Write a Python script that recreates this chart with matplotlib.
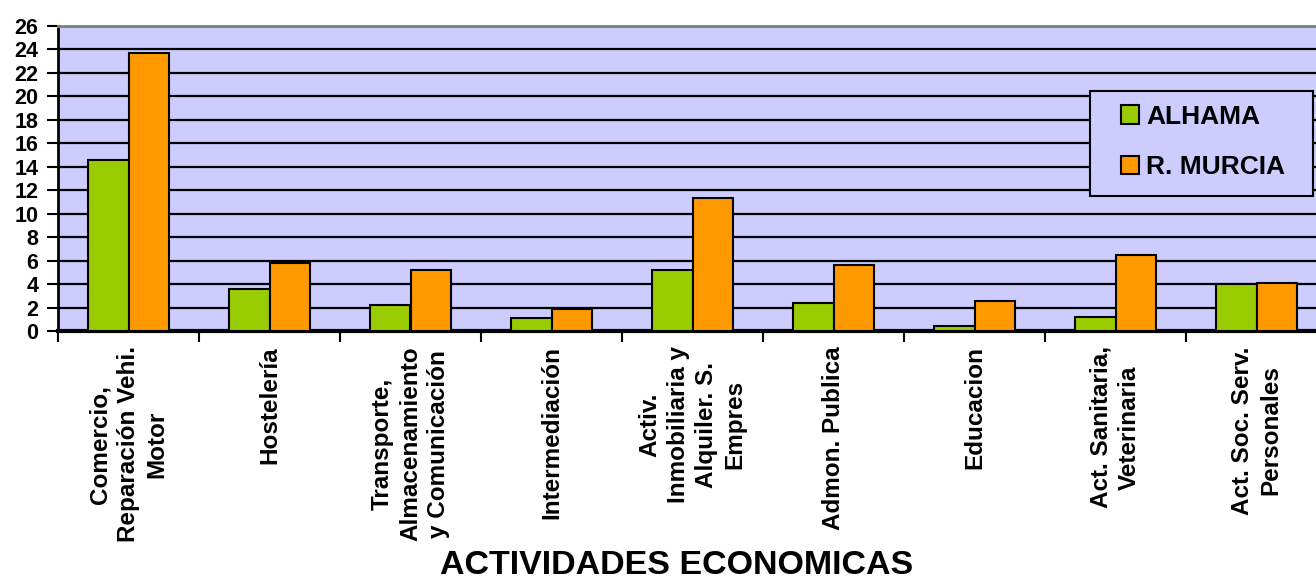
import matplotlib.pyplot as plt
import numpy as np
from matplotlib.patches import Patch, Rectangle

plt.rcParams['font.family'] = ['Liberation Sans', 'DejaVu Sans']
plt.rcParams['font.weight'] = 'bold'

categories = [
    'Comercio,\nReparación Vehi.\nMotor',
    'Hostelería',
    'Transporte,\nAlmacenamiento\ny Comunicación',
    'Intermediación',
    'Activ.\nInmobiliaria y\nAlquiler. S.\nEmpres',
    'Admon. Publica',
    'Educacion',
    'Act. Sanitaria,\nVeterinaria',
    'Act. Soc. Serv.\nPersonales',
]
alhama = [14.6, 3.55, 2.2, 1.15, 5.2, 2.4, 0.45, 1.2, 4.0]
murcia = [23.7, 5.8, 5.2, 1.9, 11.3, 5.6, 2.55, 6.45, 4.1]
series_names = ['ALHAMA', 'R. MURCIA']
yticks = list(range(0, 27, 2))

green = '#99CC00'
orange = '#FF9900'
bg = '#CCCCFF'

W, H = 1316, 588
fig = plt.figure(figsize=(W / 100, H / 100), dpi=100)
ax = fig.add_axes([58 / W, (H - 331) / H, (1327 - 58) / W, 305 / H])
ax.set_facecolor(bg)

x = np.arange(len(categories))
bw = 0.285
ax.bar(x - bw / 2, alhama, bw, color=green, edgecolor='black', linewidth=1.5, zorder=3)
ax.bar(x + bw / 2, murcia, bw, color=orange, edgecolor='black', linewidth=1.5, zorder=3)

ax.set_xlim(-0.5, len(categories) - 0.5)
ax.set_ylim(0, 26)
ax.set_yticks(yticks)
ax.set_yticklabels([str(t) for t in yticks], fontsize=15.5, fontweight='bold')
ax.yaxis.grid(True, color='black', linewidth=1.6, zorder=1)
ax.set_axisbelow(True)

# boundaries get tick marks, labels sit at the centres
ax.set_xticks(np.arange(-0.5, len(categories) + 0.5, 1))
ax.set_xticklabels([])
ax.set_xticks(x, minor=True)
ax.set_xticklabels(categories, minor=True, rotation=90, fontsize=17.5,
                   fontweight='bold', ha='center', va='top', linespacing=1.3)
ax.tick_params(axis='x', which='major', length=8, width=1.5, direction='out')
ax.tick_params(axis='x', which='minor', length=0, pad=11)
ax.tick_params(axis='y', length=8, width=1.5, direction='out', pad=6)

ax.spines['left'].set_linewidth(2)
ax.spines['bottom'].set_linewidth(3)
ax.spines['top'].set_color('#808080')
ax.spines['top'].set_linewidth(2)
ax.spines['right'].set_visible(False)

# legend frame drawn by hand (wider side padding than matplotlib gives)
fig.patches.append(Rectangle((1090 / W, (H - 196) / H), 223 / W, 105 / H,
                             transform=fig.transFigure, facecolor=bg,
                             edgecolor='black', linewidth=1.5, zorder=5))
handles = [Patch(facecolor=green, edgecolor='black', linewidth=1.5),
           Patch(facecolor=orange, edgecolor='black', linewidth=1.5)]
leg = fig.legend(handles, series_names, loc='center left',
                 bbox_to_anchor=(1121 / W, (H - 142) / H), borderaxespad=0,
                 prop={'size': 19, 'weight': 'bold'}, frameon=False,
                 handlelength=0.68, handleheight=0.68, handletextpad=0.28,
                 labelspacing=1.0, borderpad=0)
leg.set_zorder(6)

fig.text(677 / W, (H - 565) / H, 'ACTIVIDADES ECONOMICAS', ha='center',
         va='center', fontsize=24.5, fontweight='bold')

fig.savefig('out.png', dpi=100)
